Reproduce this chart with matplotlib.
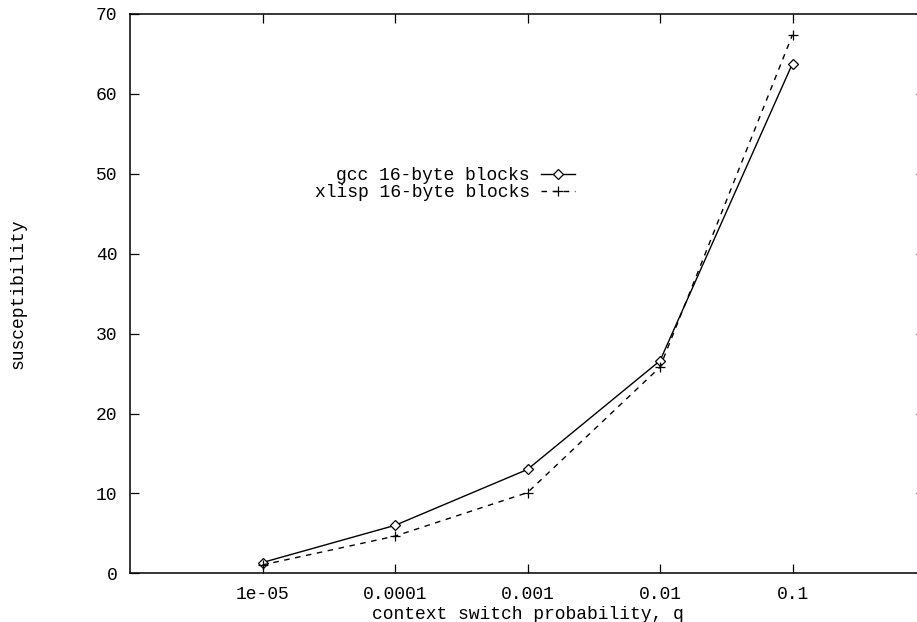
import matplotlib.pyplot as plt
from matplotlib.ticker import FixedLocator, FixedFormatter, NullLocator

# context switch probability q vs. susceptibility
q = [1e-05, 1e-04, 1e-03, 1e-02, 1e-01]
gcc = [1.35, 6.0, 13.0, 26.6, 63.8]
xlisp = [1.05, 4.65, 10.1, 25.8, 67.4]
xtick_labels = ['1e-05', '0.0001', '0.001', '0.01', '0.1']

plt.rcParams['font.family'] = 'Liberation Mono'
plt.rcParams['font.size'] = 13

fig = plt.figure(figsize=(9.17, 6.22), dpi=100)
W, H = 917, 622
ax = fig.add_axes([130 / W, (H - 573.3) / H, (925 - 130) / W, (573.3 - 14) / H])

ax.plot(q, gcc, color='black', lw=1, marker='D', markersize=5, mfc='white',
        mec='black', mew=0.9, label='gcc 16-byte blocks')
ax.plot(q, xlisp, color='black', lw=1, ls=(0, (4, 4)), marker='+', markersize=7,
        mew=0.9, label='xlisp 16-byte blocks')

ax.set_xscale('log')
ax.set_xlim(1e-06, 1)
ax.set_ylim(0, 70)
ax.xaxis.set_major_locator(FixedLocator(q))
ax.xaxis.set_major_formatter(FixedFormatter(xtick_labels))
ax.xaxis.set_minor_locator(NullLocator())
ax.set_yticks(range(0, 71, 10))
ax.tick_params(direction='in', length=6.5, width=0.9, top=True, right=True, pad=9)

for s in ax.spines.values():
    s.set_linewidth(1.1)

ax.set_xlabel('context switch probability, q', labelpad=2)
ax.set_ylabel('susceptibility', labelpad=50)

ax.legend(loc='center right', bbox_to_anchor=(575 / W, (H - 184) / H),
          bbox_transform=fig.transFigure, frameon=False, markerfirst=False,
          handlelength=1.9, handletextpad=0.6, labelspacing=0.0,
          borderpad=0, borderaxespad=0)

fig.savefig('out.png', dpi=100)
